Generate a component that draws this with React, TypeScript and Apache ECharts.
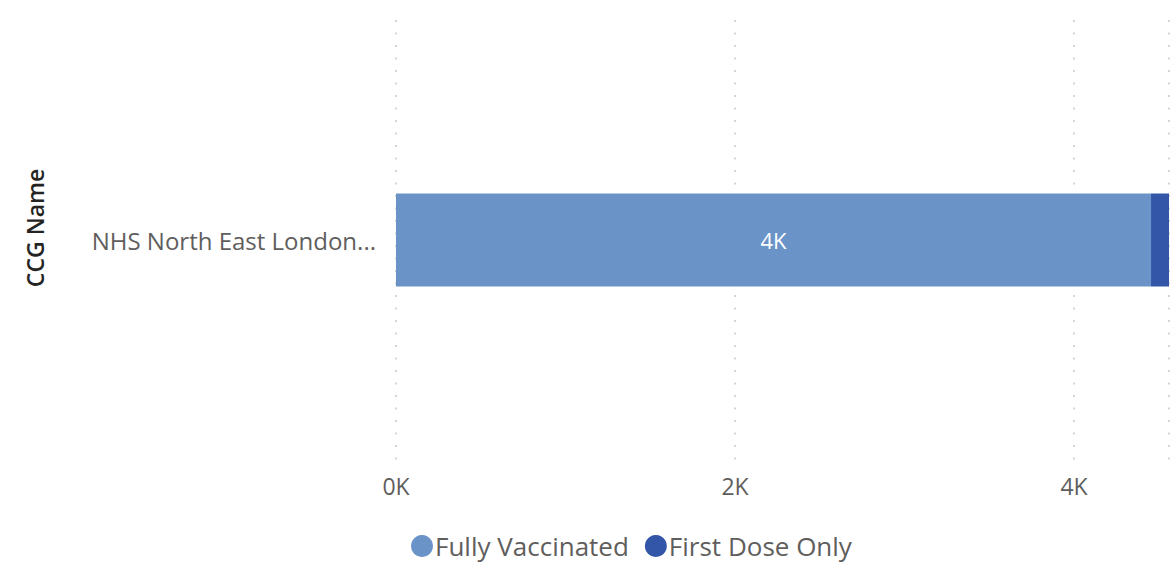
import React, { useEffect, useRef } from "react";
import * as echarts from "echarts";

const categories = ["NHS North East London CCG"];
const fullyVaccinated = [4454];
const firstDoseOnly = [106];
const xTicks = [0, 2000, 4000];

export default function App() {
  const ref = useRef<HTMLDivElement>(null);
  useEffect(() => {
    document.body.style.margin = "0";
    document.body.style.overflow = "hidden";
    const chart = echarts.init(ref.current!, null, { renderer: "svg" });
    const font = "'Open Sans', 'Noto Sans', sans-serif";
    chart.setOption({
      animation: false,
      textStyle: { fontFamily: font },
      grid: { left: 396, right: 1, top: 20, bottom: 112, containLabel: false },
      legend: {
        left: 406,
        top: 528,
        icon: "circle",
        itemWidth: 22,
        itemHeight: 22,
        itemGap: 16,
        textStyle: { fontSize: 26, color: "#605E5C", fontFamily: font, padding: [0, 0, 0, -3] },
        data: ["Fully Vaccinated", "First Dose Only"],
      },
      graphic: [
        {
          type: "text",
          x: 35,
          y: 228,
          rotation: Math.PI / 2,
          style: {
            text: "CCG Name",
            fontSize: 23,
            fontWeight: 600,
            fill: "#252423",
            fontFamily: font,
            align: "center",
            verticalAlign: "middle",
          },
        },
      ],
      xAxis: {
        type: "value",
        min: 0,
        max: 4560,
        interval: 2000,
        axisLine: { show: false },
        axisTick: { show: false },
        axisLabel: {
          customValues: xTicks,
          fontSize: 23,
          color: "#605E5C",
          margin: 14,
          formatter: (v: number) => `${v / 1000}K`,
        },
        splitLine: {
          show: true,
          lineStyle: { color: "#C8C8C8", type: [2, 10.5], width: 1.5 },
        },
      },
      yAxis: {
        type: "category",
        data: categories,
        axisLine: { show: false },
        axisTick: { show: false },
        axisLabel: {
          fontSize: 24,
          color: "#605E5C",
          margin: 20,
          formatter: (v: string) => (v.length > 21 ? v.slice(0, 21) + "..." : v),
        },
      },
      series: [
        {
          name: "Fully Vaccinated",
          type: "bar",
          stack: "total",
          data: fullyVaccinated,
          barWidth: 93,
          itemStyle: { color: "#6A93C8" },
          label: {
            show: true,
            position: "inside",
            color: "#FFFFFF",
            fontSize: 22,
            formatter: (p: any) => `${Math.round(p.value / 1000)}K`,
          },
        },
        {
          name: "First Dose Only",
          type: "bar",
          stack: "total",
          data: firstDoseOnly,
          barWidth: 93,
          itemStyle: { color: "#3356A8" },
        },
      ],
    });
    return () => chart.dispose();
  }, []);
  return <div ref={ref} style={{ width: 1170, height: 572 }} />;
}
